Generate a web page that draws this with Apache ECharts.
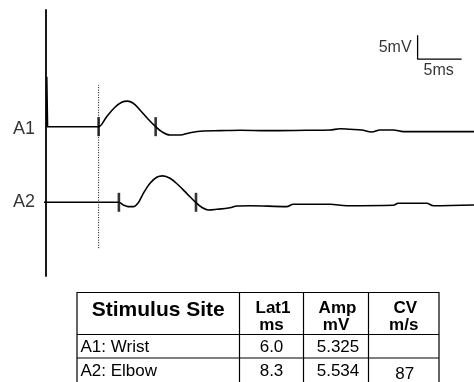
<!DOCTYPE html>
<html>
<head>
<meta charset="utf-8">
<script src="https://cdn.jsdelivr.net/npm/echarts@6/dist/echarts.min.js"></script>
<style>
html,body{margin:0;padding:0;background:#fff;}
#c{width:474px;height:382px;}
</style>
</head>
<body>
<div id="c"></div>
<script>
// ---- data ----
const traceNames = ['A1', 'A2'];
const traceBaselines = [31.1, 15.35];          // display offset of each trace (mV on plot axis)

const a1ArtifactTime = [0.1, 0.13, 0.22];
const a1ArtifactMv = [0, 10.4, 0];

const a1Time = [0.1, 5.8, 6.0, 6.91, 7.85, 8.62, 9.25, 9.93, 10.69, 11.63, 12.47, 13.16, 14.10, 15.23, 16.37, 17.88, 19.77, 22.04, 25.07, 29.6, 32.26, 33.39, 34.53, 35.86, 36.99, 37.93, 39.44, 40.58, 43.61, 48.6];
const a1Mv = [0, 0, 0, 2.08, 4.04, 5.08, 5.33, 4.88, 3.48, 1.54, 0, -1.04, -1.73, -1.73, -1.25, -0.90, -0.83, -0.75, -0.83, -0.75, -0.69, -0.42, -0.54, -0.69, -1.1, -0.69, -0.69, -1.04, -1.04, -1.04];

const a2Time = [-0.2, 8.1, 8.3, 8.8, 9.36, 9.93, 10.5, 11.07, 11.83, 12.59, 13.27, 14.1, 15.04, 15.99, 17.05, 17.7, 18.45, 19.4, 20.9, 21.67, 23.18, 27.34, 28.09, 32.26, 34.15, 39.44, 40.0, 43.23, 43.98, 48.6];
const a2Mv = [0, 0, 0, -0.56, -0.9, -0.9, -0.08, 1.87, 3.96, 5.21, 5.5, 5.0, 3.6, 1.87, -0.08, -1.04, -1.6, -1.46, -1.125, -0.77, -0.71, -0.9, -0.42, -0.42, -0.71, -0.62, -0.21, -0.21, -0.71, -0.56];

// latency cursors (ms) for each trace: onset, end
const a1Cursors = [6.0, 12.47];
const a2Cursors = [8.3, 17.05];

// dotted reference line
const refLineTime = 6.0;
const refLineRange = [5.8, 39.8];

// scale bar
const scaleOrigin = [42.2, 45.15];
const scaleMs = 5;
const scaleMv = 5;
const scaleLabels = ['5mV', '5ms'];

// table
const tableHeaders = [['Stimulus Site'], ['Lat1', 'ms'], ['Amp', 'mV'], ['CV', 'm/s']];
const tableSites = ['A1: Wrist', 'A2: Elbow'];
const tableLat = ['6.0', '8.3'];
const tableAmp = ['5.325', '5.534'];
const tableCv = ['', '87'];

// ---- layout ----
const FONT = '"Liberation Sans", Arial, Helvetica, sans-serif';
const colEdges = [77, 239.5, 303.5, 368.5, 439];
const rowEdges = [292.5, 334.5, 358, 384];

const chart = echarts.init(document.getElementById('c'), null, {renderer: 'canvas'});

const zip = (t, v, off) => t.map((x, i) => [x, v[i] + off]);

const graphics = [];
graphics.push({type: 'rect', shape: {x: colEdges[0], y: rowEdges[0], width: colEdges[4] - colEdges[0], height: rowEdges[3] - rowEdges[0]},
  style: {fill: 'none', stroke: '#000', lineWidth: 1.2}});
for (let i = 1; i < colEdges.length - 1; i++) {
  graphics.push({type: 'line', shape: {x1: colEdges[i], y1: rowEdges[0], x2: colEdges[i], y2: rowEdges[3]}, style: {stroke: '#000', lineWidth: 1.2}});
}
for (let j = 1; j < rowEdges.length - 1; j++) {
  graphics.push({type: 'line', shape: {x1: colEdges[0], y1: rowEdges[j], x2: colEdges[4], y2: rowEdges[j]}, style: {stroke: '#000', lineWidth: 1.2}});
}
tableHeaders.forEach((h, i) => {
  const cx = (colEdges[i] + colEdges[i + 1]) / 2;
  if (h.length === 1) {
    graphics.push({type: 'text', style: {text: h[0], x: cx, y: 310, font: 'bold 21px ' + FONT, fill: '#000', textAlign: 'center', textVerticalAlign: 'middle'}});
  } else {
    graphics.push({type: 'text', style: {text: h[0], x: cx + 1.5, y: 308.5, font: 'bold 17px ' + FONT, fill: '#000', textAlign: 'center', textVerticalAlign: 'middle'}});
    graphics.push({type: 'text', style: {text: h[1], x: cx, y: 325.5, font: 'bold 17px ' + FONT, fill: '#000', textAlign: 'center', textVerticalAlign: 'middle'}});
  }
});
const rowY = [347.5, 371.5];
tableSites.forEach((s, r) => {
  graphics.push({type: 'text', style: {text: s, x: colEdges[0] + 3.5, y: rowY[r], font: '17px ' + FONT, fill: '#000', textAlign: 'left', textVerticalAlign: 'middle'}});
  graphics.push({type: 'text', style: {text: tableLat[r], x: (colEdges[1] + colEdges[2]) / 2, y: rowY[r], font: '17px ' + FONT, fill: '#000', textAlign: 'center', textVerticalAlign: 'middle'}});
  graphics.push({type: 'text', style: {text: tableAmp[r], x: (colEdges[2] + colEdges[3]) / 2 + 2, y: rowY[r], font: '17px ' + FONT, fill: '#000', textAlign: 'center', textVerticalAlign: 'middle'}});
  graphics.push({type: 'text', style: {text: tableCv[r], x: (colEdges[3] + colEdges[4]) / 2 + 1, y: rowY[r] + 3, font: '17px ' + FONT, fill: '#000', textAlign: 'center', textVerticalAlign: 'middle'}});
});

const traceStyle = {color: '#000', width: 1.6};

const option = {
  animation: false,
  backgroundColor: '#fff',
  grid: {left: 44, right: 0, top: 10, bottom: 106, containLabel: false},
  xAxis: {type: 'value', min: -0.2, max: 48.6, show: false},
  yAxis: {type: 'value', min: 0, max: 55.4, axisLine: {show: true, lineStyle: {color: '#000', width: 1.8}},
    axisTick: {show: false}, axisLabel: {show: false}, splitLine: {show: false}},
  graphic: graphics,
  series: [
    {type: 'line', data: zip(a1ArtifactTime, a1ArtifactMv, traceBaselines[0]), showSymbol: false, lineStyle: {color: '#000', width: 1.3}, smooth: false, silent: true},
    {type: 'line', data: zip(a1Time, a1Mv, traceBaselines[0]), showSymbol: false, lineStyle: traceStyle, smooth: 0.35, silent: true},
    {type: 'line', data: zip(a2Time, a2Mv, traceBaselines[1]), showSymbol: false, lineStyle: traceStyle, smooth: 0.35, silent: true},
    {type: 'line', data: [[refLineTime, refLineRange[0]], [refLineTime, refLineRange[1]]], showSymbol: false,
      lineStyle: {color: '#000', width: 1, type: [1, 1.5]}, silent: true},
    {type: 'scatter', symbol: 'rect', symbolSize: [2.6, 19], itemStyle: {color: '#000'}, silent: true,
      data: a1Cursors.map(t => [t, traceBaselines[0]]).concat(a2Cursors.map(t => [t, traceBaselines[1]]))},
    {type: 'line', showSymbol: false, silent: true, lineStyle: {color: '#000', width: 1.3},
      data: [[scaleOrigin[0], scaleOrigin[1] + scaleMv], [scaleOrigin[0], scaleOrigin[1]], [scaleOrigin[0] + scaleMs, scaleOrigin[1]]]},
    {type: 'scatter', symbolSize: 0, silent: true,
      data: [
        {value: [scaleOrigin[0], scaleOrigin[1] + scaleMv / 2], label: {show: true, position: 'left', distance: 6, formatter: scaleLabels[0], color: '#000', fontSize: 16, fontFamily: FONT}},
        {value: [scaleOrigin[0] + scaleMs / 2, scaleOrigin[1]], label: {show: true, position: 'bottom', distance: 3, offset: [-1, 0], formatter: scaleLabels[1], color: '#000', fontSize: 16, fontFamily: FONT}}
      ]},
    {type: 'scatter', symbolSize: 0, silent: true,
      data: traceNames.map((n, i) => ({value: [-0.2, traceBaselines[i]],
        label: {show: true, position: 'left', distance: 9, offset: [0, i === 0 ? 2 : 0], formatter: n, color: '#000', fontSize: 18, fontFamily: FONT}}))}
  ]
};
chart.setOption(option);
</script>
</body>
</html>
